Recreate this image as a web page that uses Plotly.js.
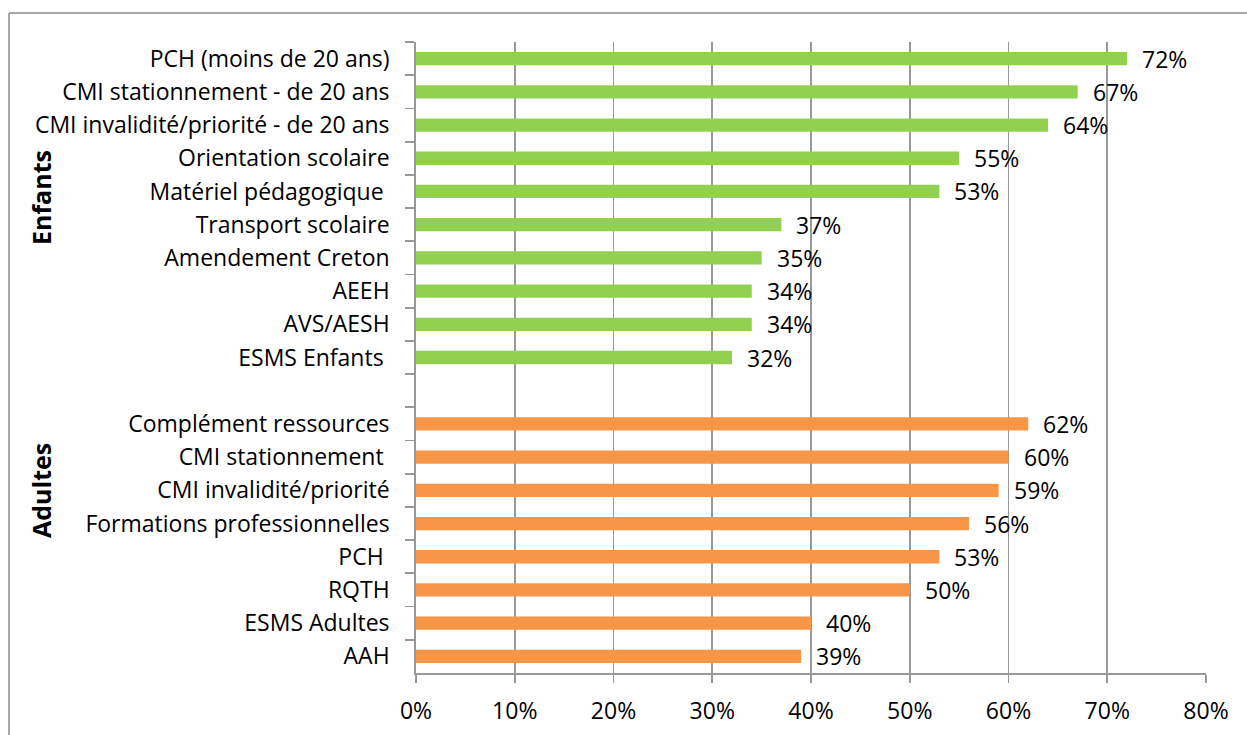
<!DOCTYPE html>
<html>
<head>
<meta charset="utf-8">
<script src="https://cdn.plot.ly/plotly-3.0.1.min.js"></script>
<style>
html,body{margin:0;padding:0;background:#fff;}
#chart{width:1247px;height:735px;}
</style>
</head>
<body>
<div id="chart"></div>
<script>
// ---- data ----
var enfantsCats = [
  "PCH (moins de 20 ans)",
  "CMI stationnement - de 20 ans",
  "CMI invalidité/priorité - de 20 ans",
  "Orientation scolaire",
  "Matériel pédagogique\u00A0",
  "Transport scolaire",
  "Amendement Creton",
  "AEEH",
  "AVS/AESH",
  "ESMS Enfants\u00A0"
];
var enfantsVals = [0.72, 0.67, 0.64, 0.55, 0.53, 0.37, 0.35, 0.34, 0.34, 0.32];

var gapCat = " ";

var adultesCats = [
  "Complément ressources",
  "CMI stationnement\u00A0",
  "CMI invalidité/priorité",
  "Formations professionnelles",
  "PCH\u00A0",
  "RQTH",
  "ESMS Adultes",
  "AAH"
];
var adultesVals = [0.62, 0.60, 0.59, 0.56, 0.53, 0.50, 0.40, 0.39];

var groupLabels = ["Enfants", "Adultes"];
var xTickVals = [0, 0.1, 0.2, 0.3, 0.4, 0.5, 0.6, 0.7, 0.8];

// ---- styles ----
var FONT = "'Open Sans', Lato, sans-serif";
var FS = 23;
var GREEN = "#92D050";
var ORANGE = "#F79646";
var GRID = "#999999";
var W = 1247, H = 735;
var M = {l: 416, r: 41, t: 42, b: 62};
var PW = W - M.l - M.r, PH = H - M.t - M.b;
function px2x(px){ return (px - M.l) / PW; }
function py2y(py){ return (H - M.b - py) / PH; }

var allCats = enfantsCats.concat([gapCat]).concat(adultesCats);

function pctLabel(v){ return Math.round(v * 100) + "%"; }

var traces = [
  {type: "bar", orientation: "h", x: enfantsVals, y: enfantsCats,
   marker: {color: GREEN}, width: 0.4, hoverinfo: "none", showlegend: false},
  {type: "bar", orientation: "h", x: adultesVals, y: adultesCats,
   marker: {color: ORANGE}, width: 0.4, hoverinfo: "none", showlegend: false}
];

var annotations = [];
function addLabels(cats, vals){
  for (var i = 0; i < cats.length; i++){
    annotations.push({x: vals[i], y: cats[i], xref: "x", yref: "y",
      text: pctLabel(vals[i]), showarrow: false, xanchor: "left", xshift: 13,
      font: {family: FONT, size: FS, color: "#000"}});
  }
}
addLabels(enfantsCats, enfantsVals);
addLabels(adultesCats, adultesVals);

annotations.push({x: px2x(41), y: py2y(198), xref: "paper", yref: "paper",
  xanchor: "center", yanchor: "middle",
  text: "<b>" + groupLabels[0] + "</b>", textangle: -90, showarrow: false,
  font: {family: FONT, size: 25, color: "#000"}});
annotations.push({x: px2x(41), y: py2y(491), xref: "paper", yref: "paper",
  xanchor: "center", yanchor: "middle",
  text: "<b>" + groupLabels[1] + "</b>", textangle: -90, showarrow: false,
  font: {family: FONT, size: 25, color: "#000"}});

var shapes = [
  {type: "line", xref: "paper", yref: "paper", x0: px2x(9), x1: px2x(1260), y0: py2y(13), y1: py2y(13),
   line: {color: "#8c8c8c", width: 1.5}},
  {type: "line", xref: "paper", yref: "paper", x0: px2x(9), x1: px2x(9), y0: py2y(13), y1: py2y(760),
   line: {color: "#8c8c8c", width: 1.5}}
];

var layout = {
  width: W, height: H,
  margin: M,
  paper_bgcolor: "#fff", plot_bgcolor: "#fff",
  barmode: "overlay",
  font: {family: FONT, size: FS, color: "#000"},
  xaxis: {
    range: [0, 0.8], tickvals: xTickVals, tickformat: ".0%",
    showgrid: true, gridcolor: GRID, gridwidth: 1.8,
    zeroline: false, showline: true, linecolor: GRID, linewidth: 1.8,
    ticks: "outside", ticklen: 8, tickcolor: GRID, tickwidth: 1.8,
    tickfont: {family: FONT, size: FS, color: "#000"}, ticklabelstandoff: 9, fixedrange: true
  },
  yaxis: {
    type: "category", categoryorder: "array", categoryarray: allCats,
    range: [allCats.length - 0.5, -0.5],
    tickson: "boundaries", ticks: "outside", ticklen: 9, tickcolor: GRID, tickwidth: 1.8,
    showgrid: false, zeroline: false, showline: true, linecolor: GRID, linewidth: 1.8,
    tickfont: {family: FONT, size: FS, color: "#000"}, ticklabelstandoff: 20, fixedrange: true
  },
  annotations: annotations,
  shapes: shapes
};

Plotly.newPlot("chart", traces, layout, {displayModeBar: false, staticPlot: true});
</script>
</body>
</html>
